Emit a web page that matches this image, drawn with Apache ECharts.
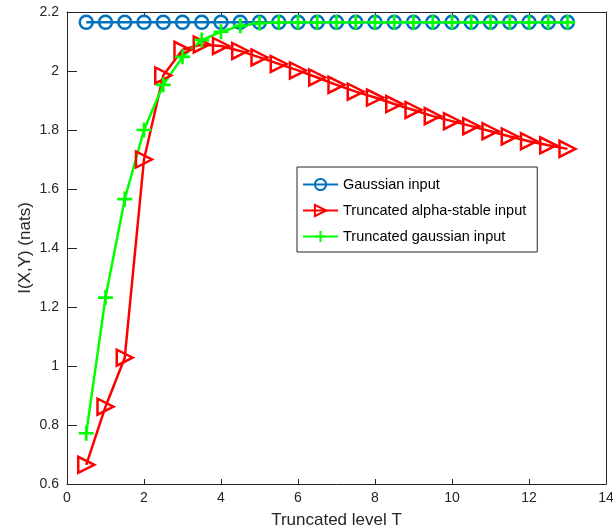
<!DOCTYPE html>
<html><head><meta charset="utf-8">
<script src="https://cdn.jsdelivr.net/npm/echarts@6/dist/echarts.min.js"></script>
<style>html,body{margin:0;padding:0;background:#fff}#c{width:613px;height:531px}</style>
</head><body><div id="c"></div>
<script>
const T = [0.5,1,1.5,2,2.5,3,3.5,4,4.5,5,5.5,6,6.5,7,7.5,8,8.5,9,9.5,10,10.5,11,11.5,12,12.5,13];
const gaussian = [2.165,2.165,2.165,2.165,2.165,2.165,2.165,2.165,2.165,2.165,2.165,2.165,2.165,2.165,2.165,2.165,2.165,2.165,2.165,2.165,2.165,2.165,2.165,2.165,2.165,2.165];
const alphaStable = [0.665,0.862,1.028,1.700,1.985,2.072,2.090,2.085,2.068,2.046,2.024,2.002,1.978,1.953,1.930,1.910,1.888,1.868,1.847,1.830,1.813,1.796,1.778,1.762,1.748,1.736];
const truncGauss = [0.772,1.232,1.566,1.800,1.953,2.048,2.105,2.133,2.153,2.162,2.165,2.165,2.165,2.165,2.165,2.165,2.165,2.165,2.165,2.165,2.165,2.165,2.165,2.165,2.165,2.165];
const names = ['Gaussian input','Truncated alpha-stable input','Truncated gaussian input'];
const xTicks = {min:0,max:14,interval:2};
const yTicks = {min:0.6,max:2.2,interval:0.2};

const pair = a => T.map((t,i)=>[t,a[i]]);
const axisCol = '#262626';
const font = 'Liberation Sans, Arial, Helvetica, sans-serif';
const plus = 'path://M0,4.1H4.1V0H5.9V4.1H10V5.9H5.9V10H4.1V5.9H0Z';

function tickAxis(base, pos){
  return Object.assign({type:'value',position:pos,offset:-5,
    axisLine:{show:false},
    axisTick:{show:true,inside:false,length:5,lineStyle:{color:axisCol,width:1}},
    axisLabel:{show:false},splitLine:{show:false}}, base);
}

const chart = echarts.init(document.getElementById('c'));
chart.setOption({
  animation:false,
  backgroundColor:'#fff',
  grid:{left:67,right:7,top:12,bottom:47,containLabel:false,outerBoundsMode:'none'},
  legend:{
    orient:'vertical', left:297, top:167,
    data:names,
    itemWidth:35, itemHeight:14, itemGap:11,
    padding:[10,11,8,5],
    borderColor:axisCol, borderWidth:1, backgroundColor:'#fff',
    textStyle:{fontFamily:font,fontSize:14.5,color:'#000'}
  },
  xAxis:[
    {type:'value',min:xTicks.min,max:xTicks.max,interval:xTicks.interval,position:'bottom',
     name:'Truncated level T',nameLocation:'middle',nameGap:28,nameMoveOverlap:false,
     nameTextStyle:{fontFamily:font,fontSize:17,color:axisCol},
     axisLine:{show:true,onZero:false,lineStyle:{color:axisCol,width:1}},
     axisTick:{show:false},
     axisLabel:{fontFamily:font,fontSize:14,color:axisCol,margin:7},
     splitLine:{show:false}},
    {type:'value',min:xTicks.min,max:xTicks.max,interval:xTicks.interval,position:'top',
     axisLine:{show:true,onZero:false,lineStyle:{color:axisCol,width:1}},
     axisTick:{show:false},axisLabel:{show:false},splitLine:{show:false}},
    tickAxis({min:xTicks.min,max:xTicks.max,interval:xTicks.interval},'bottom'),
    tickAxis({min:xTicks.min,max:xTicks.max,interval:xTicks.interval},'top')
  ],
  yAxis:[
    {type:'value',min:yTicks.min,max:yTicks.max,interval:yTicks.interval,position:'left',
     name:'I(X,Y) (nats)',nameLocation:'middle',nameGap:33,nameMoveOverlap:false,
     nameTextStyle:{fontFamily:font,fontSize:17,color:axisCol},
     axisLine:{show:true,onZero:false,lineStyle:{color:axisCol,width:1}},
     axisTick:{show:false},
     axisLabel:{fontFamily:font,fontSize:14,color:axisCol,margin:8},
     splitLine:{show:false}},
    {type:'value',min:yTicks.min,max:yTicks.max,interval:yTicks.interval,position:'right',
     axisLine:{show:true,onZero:false,lineStyle:{color:axisCol,width:1}},
     axisTick:{show:false},axisLabel:{show:false},splitLine:{show:false}},
    tickAxis({min:yTicks.min,max:yTicks.max,interval:yTicks.interval},'left'),
    tickAxis({min:yTicks.min,max:yTicks.max,interval:yTicks.interval},'right')
  ],
  series:[
    {name:names[0],type:'line',data:pair(gaussian),symbol:'circle',symbolSize:13,
     lineStyle:{color:'#0072BD',width:2.5},
     itemStyle:{color:'rgba(255,255,255,0)',borderColor:'#0072BD',borderWidth:2.5}},
    {name:names[1],type:'line',data:pair(alphaStable),symbol:'triangle',symbolSize:16,symbolRotate:-90,
     lineStyle:{color:'#FF0000',width:2.5},
     itemStyle:{color:'rgba(255,255,255,0)',borderColor:'#FF0000',borderWidth:2.5}},
    {name:names[2],type:'line',data:pair(truncGauss),symbol:plus,symbolSize:15,
     lineStyle:{color:'#00FF00',width:2.5},
     itemStyle:{color:'#00FF00',borderColor:'#00FF00',borderWidth:0}}
  ]
});
</script></body></html>
